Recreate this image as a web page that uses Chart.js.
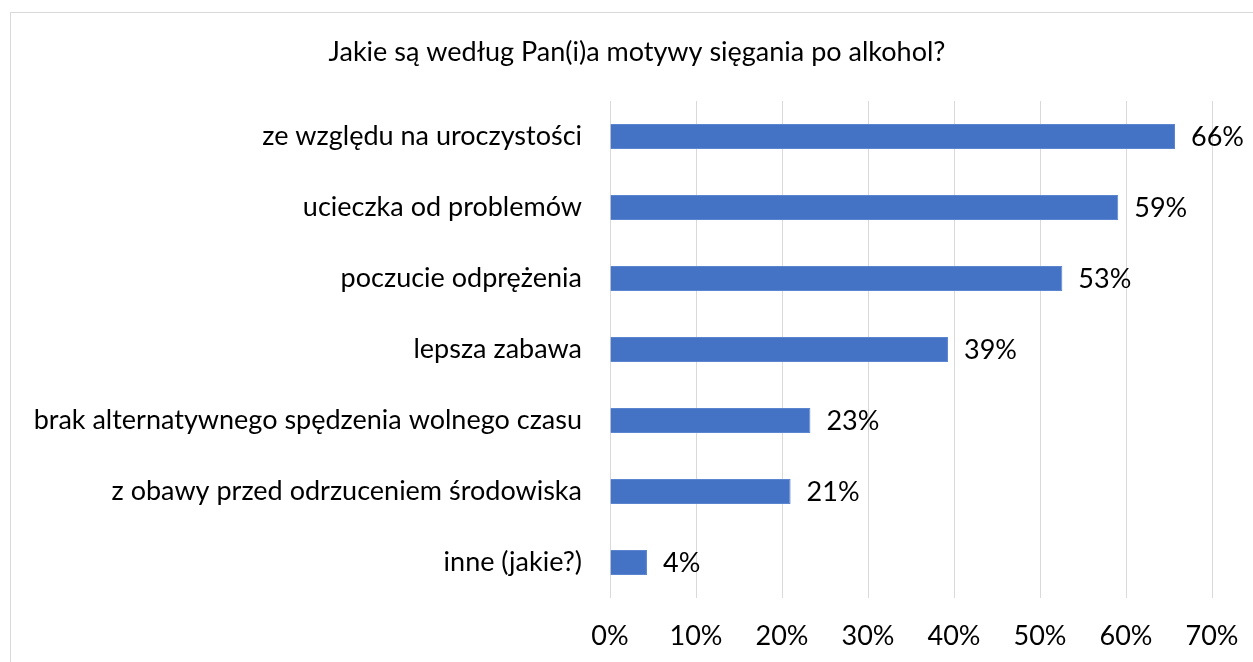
<!DOCTYPE html>
<html><head><meta charset="utf-8">
<script src="https://cdn.jsdelivr.net/npm/chart.js@4/dist/chart.umd.min.js"></script>
<style>html,body{margin:0;padding:0;background:#fff;}canvas{display:block;}</style>
</head><body>
<canvas id="c" width="1253" height="662"></canvas>
<script>
const titleText = 'Jakie są według Pan(i)a motywy sięgania po alkohol?';
const categories = [
  'ze względu na uroczystości',
  'ucieczka od problemów',
  'poczucie odprężenia',
  'lepsza zabawa',
  'brak alternatywnego spędzenia wolnego czasu',
  'z obawy przed odrzuceniem środowiska',
  'inne (jakie?)'
];
const values = [65.7, 59.1, 52.6, 39.3, 23.3, 21.0, 4.3];
const valueLabels = ['66%', '59%', '53%', '39%', '23%', '21%', '4%'];
const xTicks = ['0%', '10%', '20%', '30%', '40%', '50%', '60%', '70%'];

const FONT = 'Lato, "Open Sans", sans-serif';
const FS = 27;

const frame = {
  id: 'frame',
  beforeDraw(chart) {
    const ctx = chart.ctx;
    ctx.save();
    ctx.fillStyle = '#fff';
    ctx.fillRect(0, 0, chart.width, chart.height);
    ctx.strokeStyle = '#d9d9d9';
    ctx.lineWidth = 1;
    ctx.strokeRect(10.5, 12.5, 1400, 800);
    ctx.font = FS + 'px ' + FONT;
    ctx.fillStyle = '#000';
    ctx.textAlign = 'center';
    ctx.textBaseline = 'middle';
    ctx.fillText(titleText, 637, 52);
    ctx.restore();
  }
};

const valueLabelPlugin = {
  id: 'valueLabels',
  afterDatasetsDraw(chart) {
    const ctx = chart.ctx;
    const meta = chart.getDatasetMeta(0);
    ctx.save();
    ctx.font = FS + 'px ' + FONT;
    ctx.fillStyle = '#000';
    ctx.textAlign = 'left';
    ctx.textBaseline = 'middle';
    meta.data.forEach((bar, i) => {
      ctx.fillText(valueLabels[i], bar.x + 16, bar.y + 1);
    });
    ctx.restore();
  }
};

new Chart(document.getElementById('c'), {
  type: 'bar',
  data: {
    labels: categories,
    datasets: [{
      data: values,
      backgroundColor: '#4472C4',
      borderColor: '#5b85cf',
      borderWidth: 1,
      categoryPercentage: 1,
      barPercentage: 0.355
    }]
  },
  options: {
    indexAxis: 'y',
    responsive: false,
    animation: false,
    layout: { padding: { left: 10, right: 41, top: 101, bottom: 0 } },
    plugins: {
      legend: { display: false },
      tooltip: { enabled: false },
      title: { display: false }
    },
    scales: {
      x: {
        min: 0, max: 70,
        afterFit(s) { s.height = 64; s.paddingLeft = 0; s.paddingRight = 0; },
        grid: { color: '#d9d9d9', drawTicks: false, lineWidth: 1 },
        border: { display: false },
        ticks: {
          stepSize: 10,
          padding: 22,
          color: '#000',
          font: { family: FONT, size: FS },
          callback: (v, i) => xTicks[i]
        }
      },
      y: {
        afterFit(s) { s.width = 610 - 10; s.paddingTop = 0; s.paddingBottom = 0; },
        grid: { display: false, drawTicks: false },
        border: { display: false },
        ticks: {
          padding: 28,
          color: '#000',
          font: { family: FONT, size: FS }
        }
      }
    }
  },
  plugins: [frame, valueLabelPlugin]
});
</script>
</body></html>
